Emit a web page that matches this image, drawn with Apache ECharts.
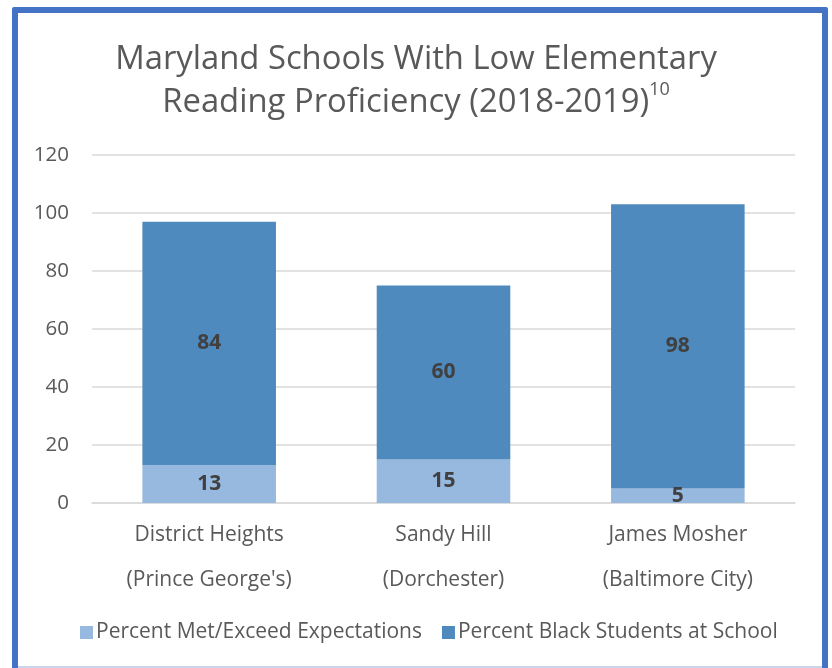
<!DOCTYPE html>
<html>
<head>
<meta charset="utf-8">
<script src="https://cdn.jsdelivr.net/npm/echarts@6/dist/echarts.min.js"></script>
<style>
html,body{margin:0;padding:0;background:#fff;}
#wrap{position:relative;width:832px;height:668px;overflow:hidden;}
#frame{position:absolute;left:12px;top:7px;width:804px;height:700px;border:6px solid #4472C4;border-radius:2px;box-sizing:content-box;}
#bline{position:absolute;left:18px;top:666px;width:804px;height:2px;background:#C9D5EA;}
#chart{position:absolute;left:0;top:0;width:832px;height:668px;}
</style>
</head>
<body>
<div id="wrap">
<div id="frame"></div>
<div id="bline"></div>
<div id="chart"></div>
</div>
<script>
const categories = ["District Heights\n(Prince George's)", "Sandy Hill\n(Dorchester)", "James Mosher\n(Baltimore City)"];
const metExpectations = [13, 15, 5];
const blackStudents = [84, 60, 98];
const seriesNames = ["Percent Met/Exceed Expectations", "Percent Black Students at School"];
const yTicks = {min: 0, max: 120, interval: 20};

const FONT = "Open Sans";
const chart = echarts.init(document.getElementById('chart'), null, {renderer: 'canvas'});
const labelStyle = {show: true, position: 'inside', color: '#404040', fontWeight: 'bold', fontSize: 21, fontFamily: FONT};
chart.setOption({
  animation: false,
  backgroundColor: 'transparent',
  title: {
    text: '{a|Maryland Schools With Low Elementary}\n{a|Reading Proficiency (2018-2019)}{s|10}',
    left: 'center',
    top: 33,
    textStyle: {
      fontWeight: 'normal',
      rich: {
        a: {fontSize: 32.8, fontFamily: FONT, fontWeight: 'normal', color: '#595959', lineHeight: 43},
        s: {fontSize: 18, fontFamily: FONT, fontWeight: 'normal', color: '#595959', lineHeight: 43, verticalAlign: 'top', padding: [0, 0, 14, 0]}
      }
    }
  },
  legend: {
    bottom: 20,
    left: 75,
    itemWidth: 13,
    itemHeight: 13,
    itemGap: 20,
    icon: 'rect',
    textStyle: {fontSize: 21, fontFamily: FONT, color: '#595959', padding: [0, 0, 0, -2]},
    data: seriesNames
  },
  grid: {left: 92, right: 37, top: 155, bottom: 165, containLabel: false},
  xAxis: {
    type: 'category',
    data: categories,
    axisLine: {lineStyle: {color: '#D9D9D9', width: 1.5}},
    axisTick: {show: false},
    axisLabel: {fontSize: 21, fontFamily: FONT, color: '#595959', lineHeight: 45, margin: 10}
  },
  yAxis: {
    type: 'value',
    min: yTicks.min,
    max: yTicks.max,
    interval: yTicks.interval,
    axisLine: {show: false},
    axisTick: {show: false},
    splitLine: {lineStyle: {color: '#D9D9D9', width: 1.5}},
    axisLabel: {fontSize: 20.5, fontFamily: FONT, color: '#595959', margin: 23}
  },
  series: [
    {
      name: seriesNames[0], type: 'bar', stack: 'total', data: metExpectations,
      barWidth: '57%',
      itemStyle: {color: '#97B8DF'},
      label: labelStyle
    },
    {
      name: seriesNames[1], type: 'bar', stack: 'total', data: blackStudents,
      barWidth: '57%',
      itemStyle: {color: '#4F8ABE'},
      label: labelStyle
    }
  ]
});
</script>
</body>
</html>
